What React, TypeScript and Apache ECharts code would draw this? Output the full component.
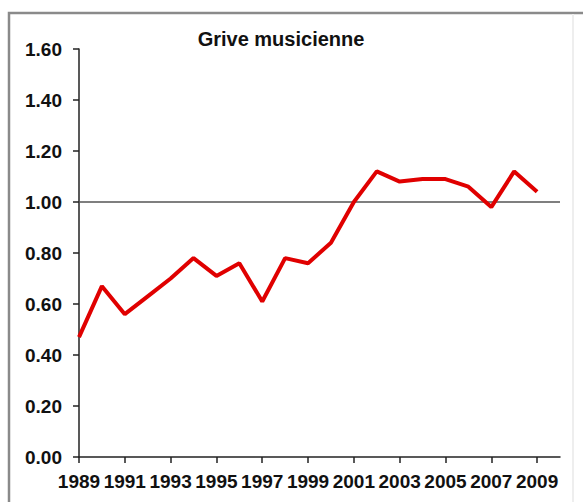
import React, { useEffect, useRef } from "react";
import * as echarts from "echarts";

const years = ["1989","1990","1991","1992","1993","1994","1995","1996","1997","1998","1999","2000","2001","2002","2003","2004","2005","2006","2007","2008","2009","2010"];
const values: (number | null)[] = [0.47,0.67,0.56,0.63,0.70,0.78,0.71,0.76,0.61,0.78,0.76,0.84,1.00,1.12,1.08,1.09,1.09,1.06,0.98,1.12,1.04,null];
const titleText = "Grive musicienne";
const referenceLevel = 1.0;

const FONT = "'Liberation Sans Narrow', 'Arial Narrow', 'Liberation Sans', Arial, sans-serif";

export default function App() {
  const ref = useRef<HTMLDivElement>(null);
  useEffect(() => {
    if (!ref.current) return;
    const chart = echarts.init(ref.current, undefined, { renderer: "svg" });
    chart.setOption({
      animation: false,
      backgroundColor: "#ffffff",
      title: {
        text: titleText,
        left: 276,
        textAlign: "center",
        top: 24,
        textStyle: { fontFamily: FONT, fontSize: 20, fontWeight: "bold", color: "#111" },
      },
      graphic: [
        {
          type: "rect",
          shape: { x: 9, y: 13, width: 620, height: 560 },
          style: { fill: "none", stroke: "#8a8a8a", lineWidth: 2.5 },
          silent: true,
        },
        {
          type: "line",
          shape: { x1: 573, y1: 14, x2: 573, y2: 502 },
          style: { stroke: "#eeeeee", lineWidth: 2 },
          silent: true,
        },
      ],
      grid: { left: 79, right: 23, top: 49, bottom: 45, containLabel: false },
      xAxis: {
        type: "category",
        data: years,
        boundaryGap: false,
        axisLine: { lineStyle: { color: "#222", width: 1.5 } },
        axisTick: { show: true, interval: 1, length: 6, lineStyle: { color: "#222", width: 1.5 } },
        axisLabel: { interval: 1, margin: 15, fontFamily: FONT, fontSize: 19, fontWeight: "bold", color: "#111" },
        splitLine: { show: false },
      },
      yAxis: {
        type: "value",
        min: 0,
        max: 1.6,
        interval: 0.2,
        axisLine: { show: true, lineStyle: { color: "#222", width: 1.5 } },
        axisTick: { show: true, length: 6, lineStyle: { color: "#222", width: 1.5 } },
        axisLabel: {
          margin: 17,
          fontFamily: FONT,
          fontSize: 19,
          fontWeight: "bold",
          color: "#111",
          formatter: (v: number) => v.toFixed(2),
        },
        splitLine: { show: false },
      },
      series: [
        {
          type: "line",
          data: values,
          showSymbol: false,
          symbol: "none",
          lineStyle: { color: "#e00000", width: 4 },
          z: 3,
          markLine: {
            silent: true,
            symbol: "none",
            label: { show: false },
            lineStyle: { color: "#555", width: 1.5, type: "solid" },
            data: [{ yAxis: referenceLevel }],
            z: 2,
          },
        },
      ],
    });
    return () => chart.dispose();
  }, []);
  return (
    <div
      ref={ref}
      style={{ position: "fixed", left: 0, top: 0, width: 583, height: 502 }}
    />
  );
}
